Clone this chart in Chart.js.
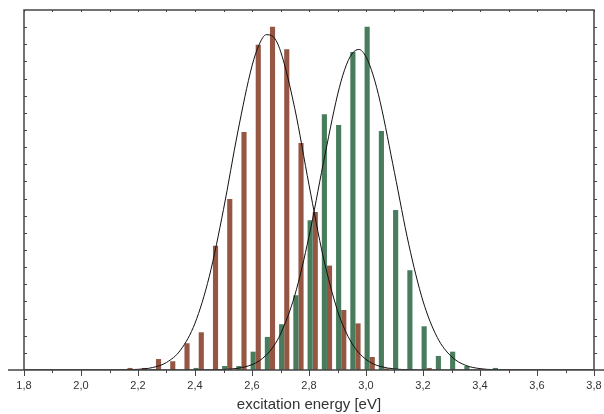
<!DOCTYPE html>
<html>
<head>
<meta charset="utf-8">
<script src="https://cdn.jsdelivr.net/npm/chart.js@4.4.1/dist/chart.umd.min.js"></script>
<style>
  html, body { margin: 0; padding: 0; background: #fff; }
  canvas { display: block; }
</style>
</head>
<body>
<canvas id="chart-hist" width="604" height="414"></canvas>
<script>
/*  ===== DATA ===== */
// histogram bins (eV)
const binCenters = [2.163, 2.213, 2.263, 2.313, 2.363, 2.413, 2.463, 2.513, 2.563, 2.613,
  2.663, 2.713, 2.763, 2.813, 2.863, 2.913, 2.963, 3.013, 3.063, 3.113,
  3.163, 3.213, 3.263, 3.313, 3.363, 3.413, 3.463];
const brownCounts = [0.12, 0.12, 0.64, 0.51, 1.56, 2.2, 7.25, 9.98, 13.89, 18.98,
  20.03, 18.71, 13.24, 9.22, 6.09, 3.5, 2.72, 0.76, 0.09, 0,
  0, 0.12, 0, 0, 0, 0, 0];
const greenCounts = [0, 0, 0.06, 0, 0, 0.12, 0, 0.23, 0.23, 1.07,
  1.93, 2.67, 4.36, 8.73, 14.92, 14.29, 18.55, 20.03, 13.94, 9.33,
  5.82, 2.55, 0.82, 1.07, 0.23, 0, 0.12];

// fitted curves
const fitX = [1.8, 2.0, 2.1, 2.2, 2.25, 2.3, 2.35, 2.4, 2.45, 2.5, 2.55, 2.6, 2.625, 2.65, 2.675, 2.7,
  2.75, 2.8, 2.85, 2.9, 2.925, 2.95, 2.975, 3.0, 3.025, 3.05, 3.1, 3.15, 3.2, 3.25, 3.3, 3.35, 3.4,
  3.45, 3.5, 3.6, 3.8];
const brownFit = [0, 0, 0, 0.04, 0.14, 0.44, 1.18, 2.73, 5.45, 9.37, 13.88, 17.74, 18.98, 19.56, 19.43, 18.6,
  15.26, 10.8, 6.59, 3.46, 2.38, 1.57, 1.0, 0.62, 0.36, 0.21, 0.06, 0.02, 0, 0, 0, 0, 0,
  0, 0, 0, 0];
const greenFit = [0, 0, 0, 0, 0, 0, 0, 0, 0.01, 0.03, 0.1, 0.31, 0.53, 0.87, 1.37, 2.1,
  4.35, 7.79, 12.04, 16.04, 17.52, 18.43, 18.7, 18.27, 17.2, 15.62, 11.51, 7.33, 4.02, 1.9, 0.78, 0.27, 0.08,
  0.02, 0.01, 0, 0];

const xTickLabels = ["1,8", "2,0", "2,2", "2,4", "2,6", "2,8", "3,0", "3,2", "3,4", "3,6", "3,8"];
/*  ================ */

const FONT = '"Liberation Sans", Arial, Helvetica, sans-serif';
const toPoints = (xs, ys) => xs.map((x, i) => ({ x: x, y: ys[i] }));

// рамка и засечки
const framePlugin = {
  id: "frame",
  afterDraw(chart) {
    const { ctx, chartArea: a, scales } = chart;
    const x = scales.x, y = scales.y;
    ctx.save();
    ctx.strokeStyle = "#444";
    ctx.lineWidth = 1.5;
    ctx.beginPath();
    ctx.moveTo(a.left, a.bottom);
    ctx.lineTo(a.left, a.top);
    ctx.lineTo(a.right, a.top);
    ctx.lineTo(a.right, a.bottom);
    ctx.moveTo(8, a.bottom);
    ctx.lineTo(chart.width, a.bottom);
    ctx.stroke();

    ctx.lineWidth = 1;
    ctx.beginPath();
    x.ticks.forEach((t, i) => {
      const px = Math.round(x.getPixelForValue(t.value)) + 0.5;
      const len = i % 2 === 0 ? 6 : 3;
      ctx.moveTo(px, a.bottom);
      ctx.lineTo(px, a.bottom + len);
      ctx.moveTo(px, a.top);
      ctx.lineTo(px, a.top + 2);
    });
    for (let k = 1; k < 21; k++) {
      const py = Math.round(y.getPixelForValue(k)) + 0.5;
      ctx.moveTo(a.left, py);
      ctx.lineTo(a.left + 3, py);
      ctx.moveTo(a.right, py);
      ctx.lineTo(a.right + 3, py);
    }
    ctx.stroke();
    ctx.restore();
  },
};

const fitStyle = {
  type: "line",
  borderColor: "#111",
  borderWidth: 1,
  pointRadius: 0,
  cubicInterpolationMode: "monotone",
  fill: false,
  order: 0,
};

new Chart(document.getElementById("chart-hist"), {
  type: "bar",
  data: {
    datasets: [
      { ...fitStyle, data: toPoints(fitX, brownFit) },
      { ...fitStyle, data: toPoints(fitX, greenFit) },
      {
        data: toPoints(binCenters, greenCounts),
        backgroundColor: "#487c5c",
        categoryPercentage: 0.72,
        barPercentage: 1.0,
        order: 1,
      },
      {
        data: toPoints(binCenters, brownCounts),
        backgroundColor: "#955644",
        categoryPercentage: 0.72,
        barPercentage: 1.0,
        order: 1,
      },
    ],
  },
  options: {
    responsive: false,
    animation: false,
    devicePixelRatio: 1,
    layout: { padding: { left: 24, right: 10, top: 10, bottom: 0 } },
    plugins: { legend: { display: false }, tooltip: { enabled: false } },
    scales: {
      x: {
        type: "linear",
        min: 1.8,
        max: 3.8,
        offset: false,
        grid: { display: false, drawTicks: false },
        border: { display: false },
        ticks: {
          stepSize: 0.1,
          autoSkip: false,
          maxRotation: 0,
          padding: 9,
          color: "#333",
          font: { family: FONT, size: 11 },
          callback: (v, i) => (i % 2 === 0 ? xTickLabels[i / 2] : ""),
        },
        title: {
          display: true,
          text: "excitation energy [eV]",
          color: "#333",
          font: { family: FONT, size: 15 },
          padding: 0,
        },
        afterFit(scale) {
          scale.height = 44;
          scale.paddingLeft = 0;
          scale.paddingRight = 0;
        },
      },
      y: {
        display: false,
        min: 0,
        max: 21,
      },
    },
  },
  plugins: [framePlugin],
});
</script>
</body>
</html>
